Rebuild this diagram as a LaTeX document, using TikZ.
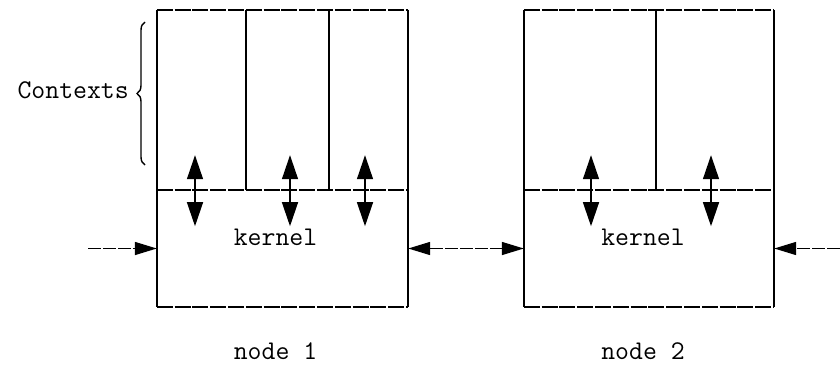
\documentclass[tikz,border=0pt]{standalone}
\usepackage{fontspec}
\usetikzlibrary{arrows.meta,decorations.pathreplacing,positioning}
\tikzset{
  cell/.style={minimum height=180pt, inner sep=0pt},
  core/.style={minimum height=117pt, inner sep=0pt},
  hline/.style={line width=1.6pt, dash pattern=on 16pt off 1.8pt},
  vline/.style={line width=1.6pt},
  link/.style={line width=1.5pt, dash pattern=on 13pt off 2pt},
  swap/.style={line width=1.4pt, {Triangle[length=24pt,width=16pt]}-{Triangle[length=24pt,width=16pt]}},
  lbl/.style={font=\fontsize{27}{30}\selectfont\ttfamily, inner sep=0pt}
}
\begin{document}
\begin{tikzpicture}[x=1pt, y=-1pt]
    \useasboundingbox (0,0) rectangle (840,364);
    % Node 1
    \node[cell, minimum width=89pt] (c11) at (201.5,100) {};
    \node[cell, minimum width=83pt] (c12) at (287.5,100) {};
    \node[cell, minimum width=79pt] (c13) at (368.5,100) {};
    \node[core, minimum width=251pt] (k1) at (282.5,248.5) {};
    \draw[hline] (c11.north west) -- (c13.north east);
    \draw[hline] (k1.north west) -- (k1.north east);
    \draw[hline] (k1.south west) -- (k1.south east);
    \draw[vline] (c11.north west) -- (k1.south west);
    \draw[vline] (c13.north east) -- (k1.south east);
    \draw[vline] (c12.north west) -- (c12.south west);
    \draw[vline] (c13.north west) -- (c13.south west);
    \node[lbl] (t1) at (275.5,237) {kernel};
    \node[lbl] (n1) at (275.5,351) {node 1};
    % Node 2
    \node[cell, minimum width=132pt] (c21) at (590,100) {};
    \node[cell, minimum width=118pt] (c22) at (715,100) {};
    \node[core, minimum width=250pt] (k2) at (649,248.5) {};
    \draw[hline] (c21.north west) -- (c22.north east);
    \draw[hline] (k2.north west) -- (k2.north east);
    \draw[hline] (k2.south west) -- (k2.south east);
    \draw[vline] (c21.north west) -- (k2.south west);
    \draw[vline] (c22.north east) -- (k2.south east);
    \draw[vline] (c22.north west) -- (c22.south west);
    \node[lbl] (t2) at (643,237) {kernel};
    \node[lbl] (n2) at (643,351) {node 2};
    % Context - kernel arrows
    \draw[swap] ([xshift=-6.5pt,yshift=35pt]c11.south) -- ([xshift=-6.5pt,yshift=-36pt]c11.south);
    \draw[swap] ([xshift=2.5pt,yshift=35pt]c12.south) -- ([xshift=2.5pt,yshift=-36pt]c12.south);
    \draw[swap] ([xshift=-3.5pt,yshift=35pt]c13.south) -- ([xshift=-3.5pt,yshift=-36pt]c13.south);
    \draw[swap] ([xshift=1pt,yshift=35pt]c21.south) -- ([xshift=1pt,yshift=-36pt]c21.south);
    \draw[swap] ([xshift=-4pt,yshift=35pt]c22.south) -- ([xshift=-4pt,yshift=-36pt]c22.south);
    % Links between nodes
    \coordinate (in1) at (88,248.5);
    \coordinate (in2) at (840,248.5);
    \draw[link, -{Triangle[length=22pt,width=13pt]}] (in1) -- (k1.west);
    \draw[link, {Triangle[length=22pt,width=13pt]}-{Triangle[length=22pt,width=13pt]}] (k1.east) -- (k2.west);
    \draw[link, -{Triangle[length=22pt,width=13pt]}] (in2) -- (k2.east);
    % Contexts brace
    \draw[decorate, decoration={brace, amplitude=8pt}, line width=1.4pt] (145,165) -- (145,22);
    \node[lbl, anchor=east] (ctx) at (129,90) {Contexts};
\end{tikzpicture}
\end{document}
